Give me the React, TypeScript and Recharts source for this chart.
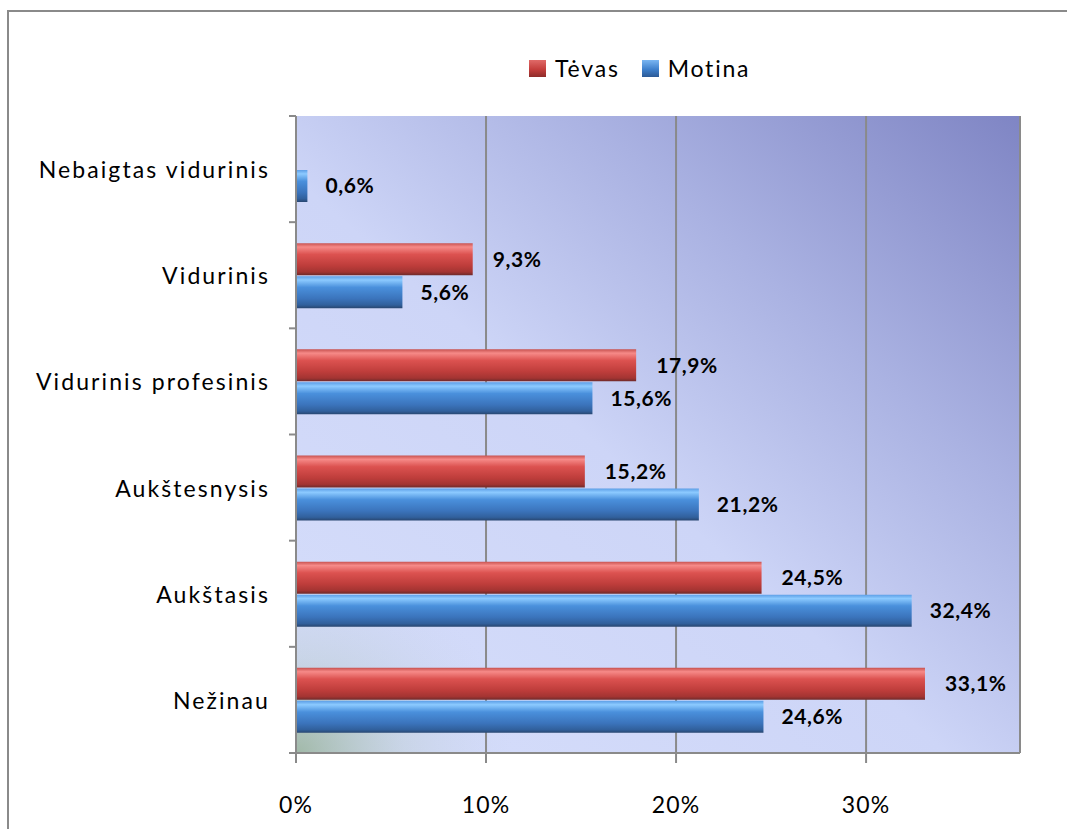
import { BarChart, Bar, XAxis, YAxis, CartesianGrid, Legend, LabelList } from "recharts";

const categories = [
    "Nebaigtas vidurinis",
    "Vidurinis",
    "Vidurinis profesinis",
    "Aukštesnysis",
    "Aukštasis",
    "Nežinau",
];
const tevas: (number | null)[] = [null, 9.3, 17.9, 15.2, 24.5, 33.1];
const motina: (number | null)[] = [0.6, 5.6, 15.6, 21.2, 32.4, 24.6];
const seriesOrder = ["tevas", "motina"];
const xTicks = [0, 10, 20, 30];

const data = categories.map((name, i) => ({ name, tevas: tevas[i], motina: motina[i] }));

const FONT = "Lato, 'Open Sans', sans-serif";
const AXIS_GREY = "#8a8a8a";
const Y_AXIS_WIDTH = 296;
const MARGIN = { top: 116, right: 47, left: 0, bottom: 16 };
const HALF_BAND = (829 - MARGIN.top - MARGIN.bottom - 60) / categories.length / 2;

const fmt = (v: any) => (v == null ? "" : `${Number(v).toFixed(1).replace(".", ",")}%`);

const CategoryTick = (props: any) => {
    const { y, payload, index } = props;
    const ax = MARGIN.left + Y_AXIS_WIDTH;
    const half = payload?.offset || HALF_BAND;
    const last = index === categories.length - 1;
    return (
        <g>
            <line x1={ax - 7} x2={ax} y1={y - half} y2={y - half} stroke={AXIS_GREY} strokeWidth={2} />
            {last && <line x1={ax - 7} x2={ax} y1={y + half} y2={y + half} stroke={AXIS_GREY} strokeWidth={2} />}
            <text
                x={ax - 26}
                y={y}
                textAnchor="end"
                dominantBaseline="central"
                fontSize={23}
                letterSpacing={2.1}
                fontFamily={FONT}
                fill="#000"
            >
                {payload.value}
            </text>
        </g>
    );
};

const XTick = (props: any) => {
    const { x, y, payload } = props;
    return (
        <text x={x} y={y + 30} textAnchor="middle" fontSize={23} letterSpacing={1.2} fontFamily={FONT} fill="#000">
            {`${payload.value}%`}
        </text>
    );
};

const renderLegend = (props: any) => {
    const items = [...(props.payload || [])].sort(
        (a: any, b: any) => seriesOrder.indexOf(a.dataKey) - seriesOrder.indexOf(b.dataKey)
    );
    return (
        <div style={{ display: "flex", alignItems: "center", fontFamily: FONT, fontSize: 23, letterSpacing: 1.8, color: "#000" }}>
            {items.map((it: any) => (
                <div key={it.value} style={{ display: "flex", alignItems: "center", marginRight: 22 }}>
                    <span
                        style={{
                            display: "inline-block",
                            width: 17,
                            height: 17,
                            marginRight: 9,
                            background:
                                it.dataKey === "tevas"
                                    ? "linear-gradient(#e06a68, #c43e3c 55%, #8e2c2a)"
                                    : "linear-gradient(#7ab6f2, #3e80cc 55%, #2c5a96)",
                        }}
                    />
                    {it.value}
                </div>
            ))}
        </div>
    );
};

const labelStyle = { fill: "#000", fontSize: 21, fontWeight: 700, letterSpacing: 0.6, fontFamily: FONT };

export default function App() {
    return (
        <div style={{ position: "absolute", left: 0, top: 0, width: 1067, height: 829, overflow: "hidden", background: "#fff" }}>
            <div
                style={{
                    position: "absolute",
                    left: 7,
                    top: 10,
                    width: 1200,
                    height: 1000,
                    border: `2px solid ${AXIS_GREY}`,
                }}
            />
            <div style={{ position: "absolute", left: 0, top: 0 }}>
                <BarChart
                    width={1067}
                    height={829}
                    data={data}
                    layout="vertical"
                    margin={MARGIN}
                    barCategoryGap="20%"
                    barGap={1}
                >
                    <defs>
                        <linearGradient id="bgLinear" x1="0" y1="1" x2="1" y2="0">
                            <stop offset="0" stopColor="#d6defb" />
                            <stop offset="0.45" stopColor="#cdd5f7" />
                            <stop offset="0.7" stopColor="#aab2e2" />
                            <stop offset="1" stopColor="#7f85c4" />
                        </linearGradient>
                        <radialGradient id="bgCorner" cx="0" cy="1" r="0.3">
                            <stop offset="0" stopColor="#8fac8c" stopOpacity={0.75} />
                            <stop offset="0.5" stopColor="#a8bfb0" stopOpacity={0.25} />
                            <stop offset="1" stopColor="#c0cce0" stopOpacity={0} />
                        </radialGradient>
                        <linearGradient id="redBar" x1="0" y1="0" x2="0" y2="1">
                            <stop offset="0" stopColor="#c85250" />
                            <stop offset="0.12" stopColor="#f68a88" />
                            <stop offset="0.35" stopColor="#dc5250" />
                            <stop offset="0.7" stopColor="#be3d3b" />
                            <stop offset="0.9" stopColor="#a33432" />
                            <stop offset="1" stopColor="#6e2a2a" />
                        </linearGradient>
                        <linearGradient id="blueBar" x1="0" y1="0" x2="0" y2="1">
                            <stop offset="0" stopColor="#5c9ee6" />
                            <stop offset="0.12" stopColor="#8ccaff" />
                            <stop offset="0.35" stopColor="#4a90dc" />
                            <stop offset="0.7" stopColor="#3b74bc" />
                            <stop offset="0.9" stopColor="#31609c" />
                            <stop offset="1" stopColor="#284670" />
                        </linearGradient>
                    </defs>
                    <CartesianGrid fill="url(#bgLinear)" horizontal={false} vertical={false} stroke="none" />
                    <CartesianGrid fill="url(#bgCorner)" horizontal={false} stroke={AXIS_GREY} strokeWidth={2} />
                    <XAxis
                        type="number"
                        domain={[0, 38.1]}
                        ticks={xTicks}
                        height={60}
                        tickSize={10}
                        tickMargin={20}
                        axisLine={{ stroke: AXIS_GREY, strokeWidth: 2 }}
                        tickLine={{ stroke: AXIS_GREY, strokeWidth: 2 }}
                        tick={<XTick />}
                        allowDataOverflow
                    />
                    <YAxis
                        type="category"
                        dataKey="name"
                        width={Y_AXIS_WIDTH}
                        axisLine={{ stroke: AXIS_GREY, strokeWidth: 2 }}
                        tickLine={false}
                        tick={<CategoryTick />}
                        interval={0}
                    />
                    <Legend
                        verticalAlign="middle"
                        align="center"
                        layout="horizontal"
                        content={renderLegend}
                        wrapperStyle={{ top: 54, left: 529, width: "auto" }}
                    />
                    <Bar dataKey="tevas" name="Tėvas" fill="url(#redBar)" barSize={32} isAnimationActive={false}>
                        <LabelList dataKey="tevas" position="right" offset={20} formatter={fmt} style={labelStyle} />
                    </Bar>
                    <Bar dataKey="motina" name="Motina" fill="url(#blueBar)" barSize={32} isAnimationActive={false}>
                        <LabelList dataKey="motina" position="right" offset={18} formatter={fmt} style={labelStyle} />
                    </Bar>
                </BarChart>
            </div>
        </div>
    );
}
